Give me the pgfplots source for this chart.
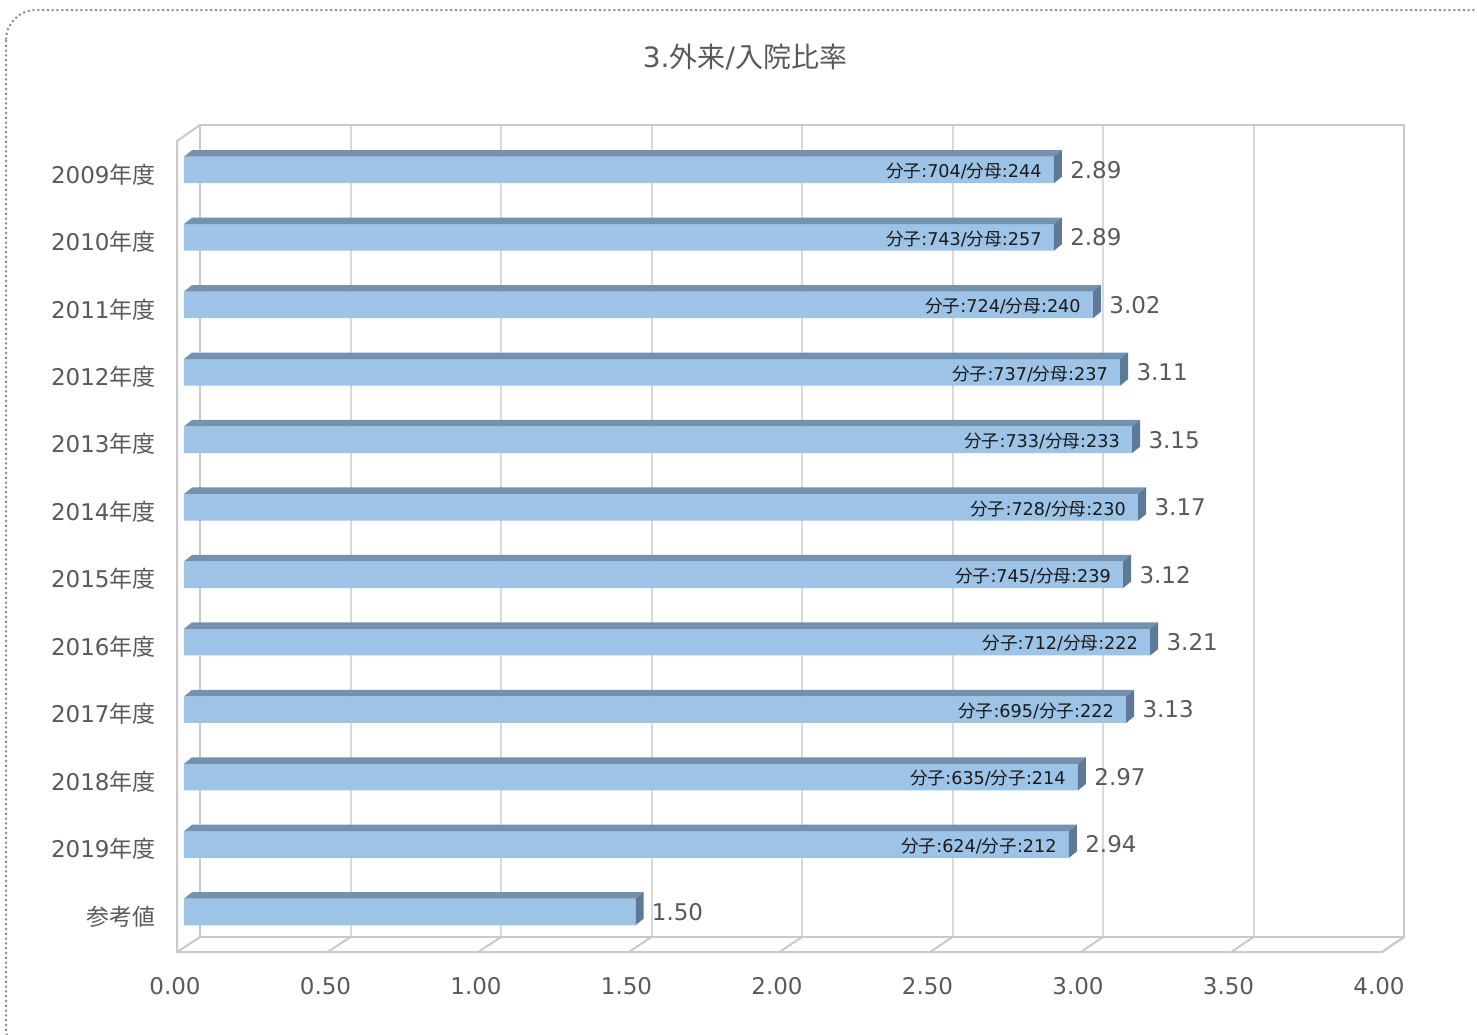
\documentclass[border=0pt]{standalone}
\usepackage{pgfplots}
\pgfplotsset{compat=1.18}
\usepackage{pgfplotstable}
\usepackage{fontspec}
\setmainfont{DejaVu Sans}
\newfontfamily\cjk{Noto Sans CJK JP}

\definecolor{barfront}{HTML}{9DC3E6}
\definecolor{bartop}{HTML}{7591B0}
\definecolor{barside}{HTML}{5E7898}
\definecolor{gridgray}{HTML}{D9D9D9}
\definecolor{framegray}{HTML}{C9C9C9}
\definecolor{labelgray}{HTML}{595959}
\definecolor{bordergray}{HTML}{8C8C8C}

% label text "分子:n/分母:d" (second word as printed)
\newcommand\fr[3]{{\cjk 分子}:#1/{\cjk 分#2}:#3}

% outpatient / inpatient ratio per fiscal year (row 11: reference value)
\pgfplotstableread{
y  v     lab
0  2.89  \fr{704}{母}{244}
1  2.89  \fr{743}{母}{257}
2  3.02  \fr{724}{母}{240}
3  3.11  \fr{737}{母}{237}
4  3.15  \fr{733}{母}{233}
5  3.17  \fr{728}{母}{230}
6  3.12  \fr{745}{母}{239}
7  3.21  \fr{712}{母}{222}
8  3.13  \fr{695}{子}{222}
9  2.97  \fr{635}{子}{214}
10 2.94  \fr{624}{子}{212}
11 1.50  -
}\ratiodata

% top and right faces of a 3D bar, drawn at the bar's end point
\pgfdeclareplotmark{barfaces}{%
  \pgfpathmoveto{\pgfpoint{-\barlen pt}{6.65pt}}%
  \pgfpathlineto{\pgfpoint{0pt}{6.65pt}}%
  \pgfpathlineto{\pgfpoint{4pt}{9.9pt}}%
  \pgfpathlineto{\pgfpoint{4pt-\barlen pt}{9.9pt}}%
  \pgfpathclose
  \pgfsetfillcolor{bartop}\pgfusepath{fill}%
  \pgfpathmoveto{\pgfpoint{0pt}{-6.65pt}}%
  \pgfpathlineto{\pgfpoint{0pt}{6.65pt}}%
  \pgfpathlineto{\pgfpoint{4pt}{9.9pt}}%
  \pgfpathlineto{\pgfpoint{4pt}{-3.4pt}}%
  \pgfpathclose
  \pgfsetfillcolor{barside}\pgfusepath{fill}%
}

\begin{document}
\begin{tikzpicture}
\useasboundingbox (0pt,0pt) rectangle (738.5pt,-517pt);
\begin{scope}[x=0.5pt,y=-0.5pt]
  % chart area border
  \draw[bordergray, line width=1pt, dash pattern=on 1pt off 1.4pt, rounded corners=15pt]
    (6,10) rectangle (1505,1058);
  % title
  \node[font=\fontsize{14}{16}\selectfont, text=labelgray] at (745,57)
    {3.{\cjk 外来}/{\cjk 入院比率}};
  % back wall with vertical gridlines
  \draw[gridgray, line width=1pt]
    \foreach \k in {1,...,7} {(200+150.5*\k,125) -- (200+150.5*\k,937)};
  \draw[framegray, line width=1pt] (200,937) -- (200,125) -- (1404,125) -- (1404,937) -- cycle;
  % side wall and floor
  \draw[framegray, line width=1pt] (200,125) -- (177,141) -- (177,952) -- (1382,952) -- (1404,937);
  \draw[framegray, line width=1pt]
    \foreach \k in {0,...,8} {(177+150.6*\k,952) -- (200+150.5*\k,937)};
\end{scope}

\begin{axis}[
  at={(92pt,-472.85pt)}, anchor=south west,
  scale only axis, width=602pt, height=404.75pt,
  xmin=0, xmax=4, ymin=-0.5, ymax=11.5, y dir=reverse,
  clip=false,
  axis line style={draw=none}, major tick style={draw=none},
  xtick={0,0.5,1,1.5,2,2.5,3,3.5,4},
  xticklabel={\pgfmathprintnumber[fixed,fixed zerofill,precision=2,assume math mode=true]{\tick}},
  xticklabel style={anchor=north, inner sep=0pt, xshift=-4.5pt, yshift=-15.5pt,
    font=\fontsize{11.5}{13}\selectfont, text=labelgray},
  ytick={0,1,2,3,4,5,6,7,8,9,10,11},
  yticklabels={2009{\cjk 年度},2010{\cjk 年度},2011{\cjk 年度},2012{\cjk 年度},
    2013{\cjk 年度},2014{\cjk 年度},2015{\cjk 年度},2016{\cjk 年度},
    2017{\cjk 年度},2018{\cjk 年度},2019{\cjk 年度},{\cjk 参考値}},
  yticklabel style={anchor=east, inner sep=0pt, xshift=-14pt, yshift=-2.2pt,
    font=\fontsize{11.5}{13}\selectfont, text=labelgray},
]
% front faces of the bars
\addplot[xbar, bar width=13.3pt, bar shift=0pt, fill=barfront, draw=none]
  table[x=v, y=y] {\ratiodata};
% top/right faces and value labels
\addplot[scatter, only marks, mark=barfaces, point meta=x,
  visualization depends on={\thisrow{v}*150.5 \as \barlen},
  nodes near coords={\pgfmathprintnumber[fixed,fixed zerofill,precision=2,assume math mode=true]{\pgfplotspointmeta}},
  every node near coord/.append style={anchor=west, inner sep=0pt, xshift=8pt,
    font=\fontsize{11.5}{13}\selectfont, text=labelgray}]
  table[x=v, y=y] {\ratiodata};
% numerator / denominator labels inside the bars
\addplot[draw=none, mark=none, restrict y to domain=0:10,
  point meta=explicit symbolic,
  nodes near coords,
  every node near coord/.append style={anchor=east, inner sep=0pt, xshift=-6pt, yshift=-0.7pt,
    font=\fontsize{8.8}{10}\selectfont, text=black!90}]
  table[x=v, y=y, meta=lab] {\ratiodata};
\end{axis}
\end{tikzpicture}
\end{document}
